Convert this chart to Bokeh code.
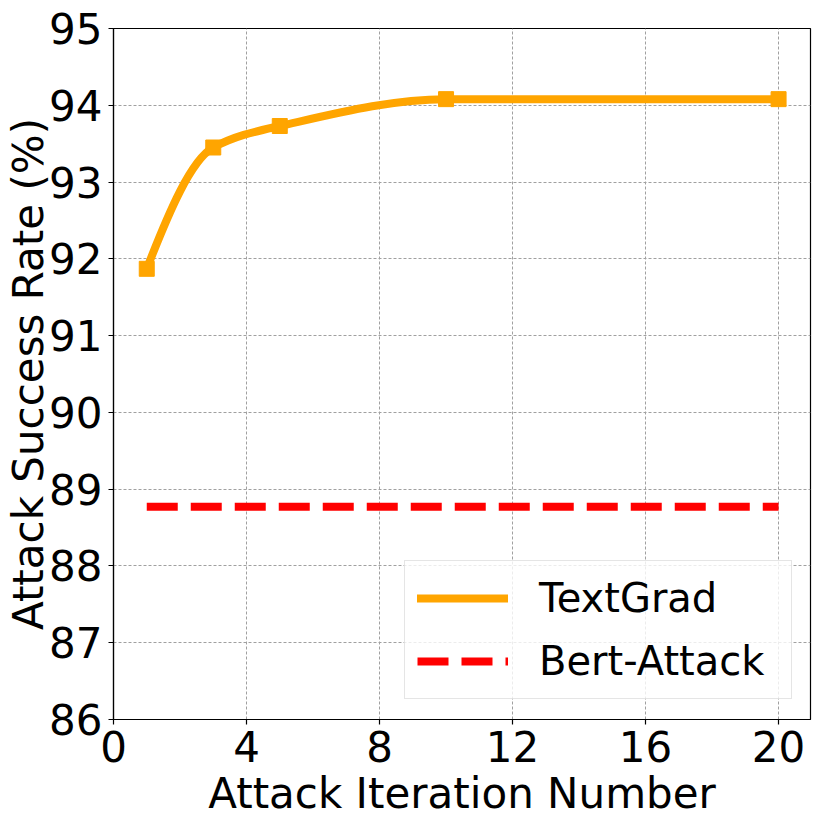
import math
from bokeh.plotting import figure
from bokeh.models import (Range1d, FixedTicker, Legend, LegendItem,
                          ColumnDataSource)
from bokeh.embed import file_html
from bokeh.resources import INLINE

# ---- data ----
iterations = [1, 3, 5, 10, 20]
textgrad = [91.87, 93.45, 93.73, 94.08, 94.08]
bert_attack = 88.77
x_ticks = [0, 4, 8, 12, 16, 20]
y_ticks = [86, 87, 88, 89, 90, 91, 92, 93, 94, 95]


def pchip_slopes(x, y):
    n = len(x)
    h = [x[i + 1] - x[i] for i in range(n - 1)]
    d = [(y[i + 1] - y[i]) / h[i] for i in range(n - 1)]
    m = [0.0] * n
    for k in range(1, n - 1):
        if d[k - 1] * d[k] <= 0:
            m[k] = 0.0
        else:
            w1 = 2 * h[k] + h[k - 1]
            w2 = h[k] + 2 * h[k - 1]
            m[k] = (w1 + w2) / (w1 / d[k - 1] + w2 / d[k])

    def end(h0, h1, d0, d1):
        s = ((2 * h0 + h1) * d0 - h0 * d1) / (h0 + h1)
        if s * d0 <= 0:
            return 0.0
        if d0 * d1 <= 0 and abs(s) > abs(3 * d0):
            return 3 * d0
        return s

    m[0] = end(h[0], h[1], d[0], d[1])
    m[-1] = end(h[-1], h[-2], d[-1], d[-2])
    return m


m = pchip_slopes(iterations, textgrad)
seg = dict(x0=[], y0=[], x1=[], y1=[], cx0=[], cy0=[], cx1=[], cy1=[])
for i in range(len(iterations) - 1):
    xa, xb = iterations[i], iterations[i + 1]
    ya, yb = textgrad[i], textgrad[i + 1]
    hh = (xb - xa) / 3.0
    seg["x0"].append(xa); seg["y0"].append(ya)
    seg["x1"].append(xb); seg["y1"].append(yb)
    seg["cx0"].append(xa + hh); seg["cy0"].append(ya + m[i] * hh)
    seg["cx1"].append(xb - hh); seg["cy1"].append(yb - m[i + 1] * hh)

FONT = "DejaVu Sans"

p = figure(width=820, height=820, output_backend="svg", toolbar_location=None,
           x_range=Range1d(0, 20.96), y_range=Range1d(86, 95),
           min_border_left=113, min_border_right=10, min_border_top=28,
           min_border_bottom=100)

p.outline_line_color = "black"
p.outline_line_width = 1.2

for ax in (p.xaxis, p.yaxis):
    ax.axis_line_color = "black"
    ax.axis_line_width = 1.2
    ax.major_tick_line_color = "black"
    ax.major_tick_line_width = 1.2
    ax.major_tick_out = 5
    ax.major_tick_in = 0
    ax.minor_tick_line_color = None
    ax.major_label_text_font = FONT
    ax.major_label_text_font_size = "42px"
    ax.major_label_text_color = "black"
    ax.axis_label_text_font = FONT
    ax.axis_label_text_font_size = "42px"
    ax.axis_label_text_font_style = "normal"
    ax.axis_label_text_color = "black"

p.xaxis.axis_label = "Attack Iteration Number"
p.yaxis.axis_label = "Attack Success Rate (%)"
p.xaxis.ticker = FixedTicker(ticks=x_ticks)
p.yaxis.ticker = FixedTicker(ticks=y_ticks)
p.xaxis.major_label_standoff = 6
p.xaxis.axis_label_standoff = 4
p.yaxis.major_label_standoff = 6
p.yaxis.axis_label_standoff = -7

p.grid.grid_line_color = "#a0a0a0"
p.grid.grid_line_width = 1
p.grid.grid_line_dash = "3 2"

src = ColumnDataSource(seg)
bez = p.bezier(x0="x0", y0="y0", x1="x1", y1="y1", cx0="cx0", cy0="cy0",
               cx1="cx1", cy1="cy1", source=src, line_color="orange",
               line_width=8, line_cap="round")
p.scatter(iterations, textgrad, marker="square", size=15, color="orange")

bert = p.line([iterations[0], iterations[-1]], [bert_attack, bert_attack],
              line_color="red", line_width=8, line_dash="31 13")

legend = Legend(items=[LegendItem(label="TextGrad", renderers=[bez]),
                       LegendItem(label="Bert-Attack", renderers=[bert])],
                location=(291, 20))
legend.label_text_font = FONT
legend.label_text_font_size = "40px"
legend.label_text_color = "black"
legend.glyph_width = 91
legend.glyph_height = 50
legend.label_height = 50
legend.label_width = 240
legend.label_standoff = 31
legend.padding = 12
legend.spacing = 13
legend.margin = 0
legend.border_line_color = "#cccccc"
legend.border_line_width = 1
legend.background_fill_alpha = 0.8
p.add_layout(legend)

open("out.html", "w").write(file_html(p, INLINE))
